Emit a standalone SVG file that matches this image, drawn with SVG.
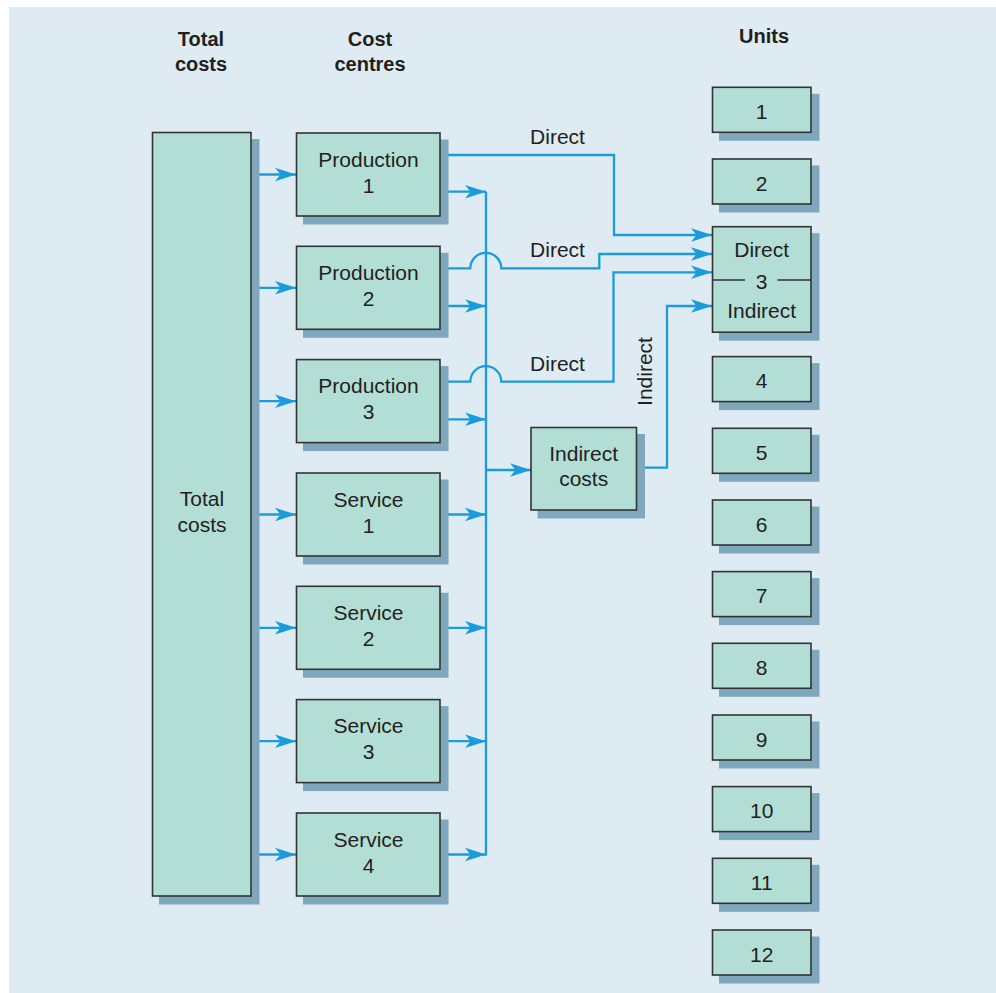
<svg xmlns="http://www.w3.org/2000/svg" width="996" height="993" viewBox="0 0 996 993">
<style>
.bg{fill:#deebf3}
.box{fill:#b3ded5;stroke:#333333;stroke-width:1.6}
.sh{fill:#7fa8bd}
.t{font-family:"Liberation Sans",Arial,sans-serif;font-size:21px;fill:#231f20;text-anchor:middle}
.h{font-family:"Liberation Sans",Arial,sans-serif;font-size:20px;font-weight:bold;fill:#231f20;text-anchor:middle}
.c{fill:none;stroke:#1a9bdc;stroke-width:2.3}
.a{marker-end:url(#arr)}
.div{stroke:#333333;stroke-width:1.6}
</style>
<defs>
<marker id="arr" viewBox="-22 -8 24 16" refX="0" refY="0" markerWidth="24" markerHeight="16" markerUnits="userSpaceOnUse" orient="auto">
<path d="M0,0 L-21,-6.7 L-15.5,0 L-21,6.7 Z" fill="#1a9bdc"/>
</marker>
</defs>
<rect x="0" y="0" width="996" height="993" fill="#ffffff"/>
<rect class="bg" x="9" y="7" width="987" height="986"/>

<g id="headers">
<text class="h" x="201" y="46">Total</text>
<text class="h" x="201" y="71">costs</text>
<text class="h" x="370" y="46">Cost</text>
<text class="h" x="370" y="71">centres</text>
<text class="h" x="764" y="43">Units</text>
</g>

<g id="connectors">
<path class="c a" d="M251,174.5 H296"/>
<path class="c a" d="M251,287.8 H296"/>
<path class="c a" d="M251,401.2 H296"/>
<path class="c a" d="M251,514.5 H296"/>
<path class="c a" d="M251,627.8 H296"/>
<path class="c a" d="M251,741.2 H296"/>
<path class="c a" d="M251,854.5 H296"/>
<path class="c" d="M486,191.7 V855.6"/>
<path class="c a" d="M440,191.7 H486"/>
<path class="c a" d="M440,306 H486"/>
<path class="c a" d="M440,419.3 H486"/>
<path class="c a" d="M440,514.5 H486"/>
<path class="c a" d="M440,627.8 H486"/>
<path class="c a" d="M440,741.2 H486"/>
<path class="c a" d="M440,854.5 H486"/>
<path class="c a" d="M486,470 H531"/>
<path class="c a" d="M636.7,467.7 H667 V306 H712"/>
<path class="c a" d="M440,155 H614 V235 H712"/>
<path class="c a" d="M440,268.3 H470.3 A15.5,15.5 0 0 1 501.3,268.3 H599.3 V254 H712"/>
<path class="c a" d="M440,381.7 H470.3 A15.5,15.5 0 0 1 501.3,381.7 H613.5 V272.3 H712"/>
<text class="t" x="557.5" y="144">Direct</text>
<text class="t" x="557.5" y="257">Direct</text>
<text class="t" x="557.5" y="371">Direct</text>
<text class="t" transform="translate(652,371.5) rotate(-90)" x="0" y="0">Indirect</text>
</g>

<g id="total-costs">
<rect class="sh" x="159" y="139" width="100.5" height="765.5"/>
<rect class="box" x="152.5" y="132.5" width="98.5" height="763.5"/>
<text class="t" x="202" y="506">Total</text>
<text class="t" x="202" y="532">costs</text>
</g>

<g id="production-1">
<rect class="sh" x="303" y="139.5" width="145.5" height="85"/>
<rect class="box" x="296.5" y="133" width="143.5" height="83"/>
<text class="t" x="368.5" y="166.5">Production</text>
<text class="t" x="368.5" y="192.5">1</text>
</g>
<g id="production-2">
<rect class="sh" x="303" y="252.8" width="145.5" height="85"/>
<rect class="box" x="296.5" y="246.3" width="143.5" height="83"/>
<text class="t" x="368.5" y="279.8">Production</text>
<text class="t" x="368.5" y="305.8">2</text>
</g>
<g id="production-3">
<rect class="sh" x="303" y="366.1" width="145.5" height="85"/>
<rect class="box" x="296.5" y="359.6" width="143.5" height="83"/>
<text class="t" x="368.5" y="393.1">Production</text>
<text class="t" x="368.5" y="419.1">3</text>
</g>
<g id="service-1">
<rect class="sh" x="303" y="479.5" width="145.5" height="85"/>
<rect class="box" x="296.5" y="473" width="143.5" height="83"/>
<text class="t" x="368.5" y="506.5">Service</text>
<text class="t" x="368.5" y="532.5">1</text>
</g>
<g id="service-2">
<rect class="sh" x="303" y="592.8" width="145.5" height="85"/>
<rect class="box" x="296.5" y="586.3" width="143.5" height="83"/>
<text class="t" x="368.5" y="619.8">Service</text>
<text class="t" x="368.5" y="645.8">2</text>
</g>
<g id="service-3">
<rect class="sh" x="303" y="706.1" width="145.5" height="85"/>
<rect class="box" x="296.5" y="699.6" width="143.5" height="83"/>
<text class="t" x="368.5" y="733.1">Service</text>
<text class="t" x="368.5" y="759.1">3</text>
</g>
<g id="service-4">
<rect class="sh" x="303" y="819.5" width="145.5" height="85"/>
<rect class="box" x="296.5" y="813" width="143.5" height="83"/>
<text class="t" x="368.5" y="846.5">Service</text>
<text class="t" x="368.5" y="872.5">4</text>
</g>

<g id="indirect-costs">
<rect class="sh" x="537.5" y="434" width="107.5" height="84.5"/>
<rect class="box" x="531" y="427.5" width="105.5" height="82.5"/>
<text class="t" x="583.7" y="461">Indirect</text>
<text class="t" x="583.7" y="486">costs</text>
</g>

<g id="unit-1"><rect class="sh" x="719" y="93.8" width="100.5" height="47"/><rect class="box" x="712.5" y="87.3" width="98.5" height="45"/><text class="t" x="761.7" y="118.8">1</text></g>
<g id="unit-2"><rect class="sh" x="719" y="165.5" width="100.5" height="47"/><rect class="box" x="712.5" y="159" width="98.5" height="45"/><text class="t" x="761.7" y="190.5">2</text></g>
<g id="unit-3">
<rect class="sh" x="719" y="233.2" width="100.5" height="107.5"/>
<rect class="box" x="712.5" y="226.7" width="98.5" height="105.5"/>
<line class="div" x1="712.5" y1="280" x2="745" y2="280"/>
<line class="div" x1="777.5" y1="280" x2="811" y2="280"/>
<text class="t" x="761.7" y="256.5">Direct</text>
<text class="t" x="761.7" y="288.5">3</text>
<text class="t" x="761.7" y="317.7">Indirect</text>
</g>
<g id="unit-4"><rect class="sh" x="719" y="363.1" width="100.5" height="47"/><rect class="box" x="712.5" y="356.6" width="98.5" height="45"/><text class="t" x="761.7" y="388.1">4</text></g>
<g id="unit-5"><rect class="sh" x="719" y="434.8" width="100.5" height="47"/><rect class="box" x="712.5" y="428.3" width="98.5" height="45"/><text class="t" x="761.7" y="459.8">5</text></g>
<g id="unit-6"><rect class="sh" x="719" y="506.5" width="100.5" height="47"/><rect class="box" x="712.5" y="500" width="98.5" height="45"/><text class="t" x="761.7" y="531.5">6</text></g>
<g id="unit-7"><rect class="sh" x="719" y="578.1" width="100.5" height="47"/><rect class="box" x="712.5" y="571.6" width="98.5" height="45"/><text class="t" x="761.7" y="603.1">7</text></g>
<g id="unit-8"><rect class="sh" x="719" y="649.8" width="100.5" height="47"/><rect class="box" x="712.5" y="643.3" width="98.5" height="45"/><text class="t" x="761.7" y="674.8">8</text></g>
<g id="unit-9"><rect class="sh" x="719" y="721.5" width="100.5" height="47"/><rect class="box" x="712.5" y="715" width="98.5" height="45"/><text class="t" x="761.7" y="746.5">9</text></g>
<g id="unit-10"><rect class="sh" x="719" y="793.1" width="100.5" height="47"/><rect class="box" x="712.5" y="786.6" width="98.5" height="45"/><text class="t" x="761.7" y="818.1">10</text></g>
<g id="unit-11"><rect class="sh" x="719" y="864.8" width="100.5" height="47"/><rect class="box" x="712.5" y="858.3" width="98.5" height="45"/><text class="t" x="761.7" y="889.8">11</text></g>
<g id="unit-12"><rect class="sh" x="719" y="936.5" width="100.5" height="47"/><rect class="box" x="712.5" y="930" width="98.5" height="45"/><text class="t" x="761.7" y="961.5">12</text></g>
</svg>
